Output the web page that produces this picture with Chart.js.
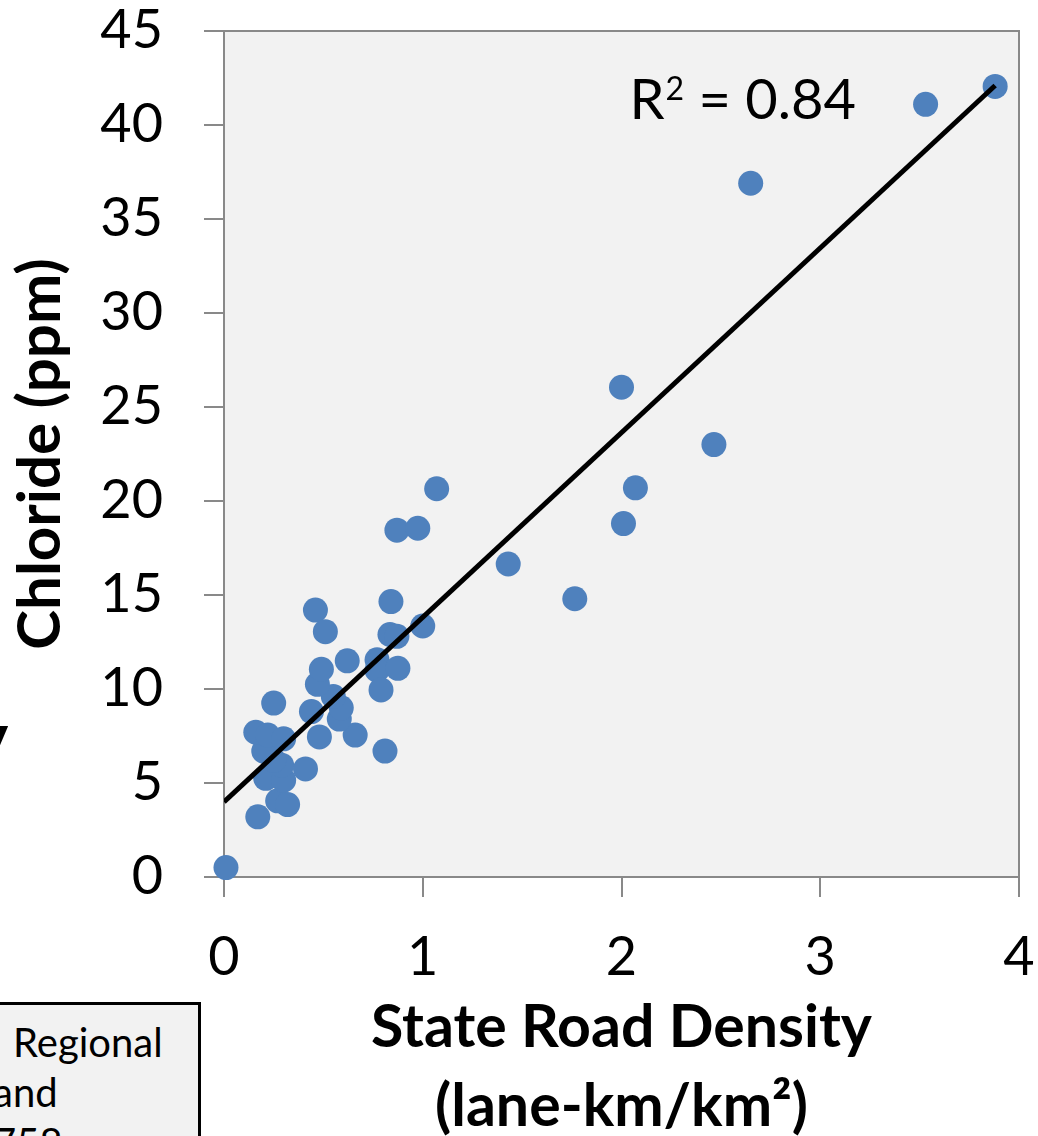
<!DOCTYPE html>
<html>
<head>
<meta charset="utf-8">
<script src="https://cdn.jsdelivr.net/npm/chart.js@4/dist/chart.umd.min.js"></script>
<style>
  html, body { margin: 0; padding: 0; background: #fff; overflow: hidden; }
  #wrap { position: relative; width: 1038px; height: 1136px; }
  #side-box {
    position: absolute; left: -20px; top: 1002px; width: 221px; height: 160px;
    border: 3px solid #000; background: #f2f2f2; box-sizing: border-box;
    font: 40px Lato, sans-serif; color: #000; line-height: 50px; overflow: hidden;
  }
  #side-box span { position: absolute; white-space: nowrap; }
  #frag-y { position: absolute; left: -34px; top: 688px; font: bold 80px Lato, sans-serif; }
</style>
</head>
<body>
<div id="wrap">
  <canvas id="chart" width="1038" height="1136"></canvas>
  <div id="frag-y">y</div>
  <div id="side-box">
    <span style="left:30px;top:12px">Regional</span>
    <span style="left:10px;top:62px">and</span>
    <span style="left:10px;top:112px">758</span>
  </div>
</div>
<script>
// ── data ────────────────────────────────────────────────────────────────────
const roadDensity = [0.01, 0.17, 0.27, 0.32, 0.21, 0.30, 0.29, 0.41, 0.25, 0.20,
                     0.16, 0.22, 0.30, 0.25, 0.48, 0.66, 0.81, 0.44, 0.58, 0.59,
                     0.55, 0.47, 0.49, 0.62, 0.77, 0.77, 0.875, 0.79, 0.835, 0.87,
                     1.00, 0.84, 0.46, 0.51, 0.87, 0.975, 1.07, 1.43, 1.765, 2.00,
                     2.01, 2.07, 2.465, 2.65, 3.53, 3.88];
const chloride    = [0.5, 3.2, 4.05, 3.85, 5.25, 5.15, 5.95, 5.75, 6.2, 6.7,
                     7.7, 7.55, 7.35, 9.25, 7.45, 7.55, 6.7, 8.8, 8.4, 9.0,
                     9.6, 10.25, 11.05, 11.5, 11.55, 11.0, 11.1, 9.95, 12.9, 12.8,
                     13.35, 14.65, 14.2, 13.05, 18.45, 18.55, 20.65, 16.65, 14.8, 26.05,
                     18.8, 20.7, 23.0, 36.9, 41.1, 42.05];
const trendX = [0, 3.88];
const trendY = [4.0, 42.1];
const xTicks = [0, 1, 2, 3, 4];
const yTicks = [0, 5, 10, 15, 20, 25, 30, 35, 40, 45];
const rSquared = '0.84';

const FONT = 'Lato';
const AXIS_GREY = '#898989';

// the scales would otherwise push the plot in to make room for end labels
const noScalePadding = s => {
  s.paddingTop = 0; s.paddingBottom = 0; s.paddingLeft = 0; s.paddingRight = 0;
};

// plot background + top/right frame, R² label
const plotFrame = {
  id: 'plotFrame',
  beforeDraw(chart) {
    const { ctx, chartArea: a } = chart;
    ctx.save();
    ctx.fillStyle = '#f2f2f2';
    ctx.fillRect(a.left, a.top, a.right - a.left, a.bottom - a.top);
    ctx.strokeStyle = AXIS_GREY;
    ctx.lineWidth = 2;
    ctx.beginPath();
    ctx.moveTo(a.left, a.top);
    ctx.lineTo(a.right, a.top);
    ctx.lineTo(a.right, a.bottom);
    ctx.stroke();
    ctx.restore();
  },
  afterDraw(chart) {
    const { ctx, scales } = chart;
    const x = scales.x.getPixelForValue(2.04);
    const y = scales.y.getPixelForValue(40.3);
    ctx.save();
    ctx.fillStyle = '#000';
    ctx.textBaseline = 'alphabetic';
    ctx.font = `56px ${FONT}`;
    ctx.fillText('R', x, y);
    let cx = x + ctx.measureText('R').width + 1;
    ctx.font = `32px ${FONT}`;
    ctx.fillText('2', cx, y - 19);
    cx += ctx.measureText('2').width;
    ctx.font = `56px ${FONT}`;
    ctx.fillText(' = ' + rSquared, cx, y);
    ctx.restore();
  }
};

new Chart(document.getElementById('chart').getContext('2d'), {
  type: 'scatter',
  data: {
    datasets: [
      {
        type: 'line',
        data: trendX.map((v, i) => ({ x: v, y: trendY[i] })),
        borderColor: '#000',
        borderWidth: 5,
        pointRadius: 0,
        fill: false,
        order: 0
      },
      {
        data: roadDensity.map((v, i) => ({ x: v, y: chloride[i] })),
        backgroundColor: '#4f81bd',
        borderWidth: 0,
        pointRadius: 12.5,
        pointHoverRadius: 12.5,
        clip: false,
        order: 1
      }
    ]
  },
  options: {
    responsive: false,
    animation: false,
    events: [],
    layout: { padding: { top: 31, right: 19, left: 0, bottom: 0 } },
    plugins: { legend: { display: false }, tooltip: { enabled: false } },
    scales: {
      x: {
        type: 'linear', min: 0, max: 4,
        afterBuildTicks: s => { s.ticks = xTicks.map(v => ({ value: v })); },
        afterFit: s => { s.height = 259; noScalePadding(s); },
        border: { color: AXIS_GREY, width: 2 },
        grid: { drawOnChartArea: false, drawTicks: true, tickLength: 20, color: AXIS_GREY, lineWidth: 2 },
        ticks: { color: '#000', font: { family: FONT, size: 54 }, padding: 28, maxRotation: 0 },
        title: {
          display: true,
          text: ['State Road Density', '(lane-km/km\u00b2)'],
          color: '#000',
          font: { family: FONT, size: 59, weight: 'bold', lineHeight: 1.33 },
          padding: { top: 0, bottom: -10 }
        }
      },
      y: {
        type: 'linear', min: 0, max: 45,
        afterBuildTicks: s => { s.ticks = yTicks.map(v => ({ value: v })); },
        afterFit: s => { s.width = 224; noScalePadding(s); },
        border: { color: AXIS_GREY, width: 2 },
        grid: { drawOnChartArea: false, drawTicks: true, tickLength: 20, color: AXIS_GREY, lineWidth: 2 },
        ticks: { color: '#000', font: { family: FONT, size: 54 }, padding: 41 },
        title: {
          display: true,
          text: 'Chloride (ppm)',
          color: '#000',
          font: { family: FONT, size: 60, weight: 'bold', lineHeight: 1.2 },
          padding: { top: 5, bottom: 0 }
        }
      }
    }
  },
  plugins: [plotFrame]
});
</script>
</body>
</html>
